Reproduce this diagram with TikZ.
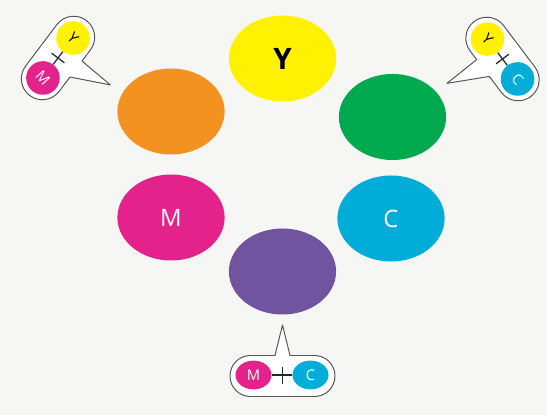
\documentclass[tikz,border=0pt]{standalone}
\usepackage{fontspec}
\setmainfont{Open Sans}
\usetikzlibrary{shapes.geometric}

\definecolor{paper}{RGB}{246,246,244}
\definecolor{inkY}{RGB}{255,241,0}
\definecolor{inkM}{RGB}{228,34,140}
\definecolor{inkC}{RGB}{0,172,216}
\definecolor{inkO}{RGB}{243,146,32}
\definecolor{inkG}{RGB}{0,168,78}
\definecolor{inkV}{RGB}{112,84,160}
\definecolor{bubbleline}{RGB}{85,85,85}

\begin{document}
\begin{tikzpicture}[
			x=0.025cm, y=0.025cm,
			disc/.style={
				ellipse,
				minimum width=2.68cm,
				minimum height=2.15cm,
				inner sep=0pt,
				font=\fontsize{17}{17}\selectfont
			},
			dot/.style={
				ellipse,
				minimum width=0.9cm,
				minimum height=0.72cm,
				inner sep=0pt,
				font=\fontsize{10.5}{10.5}\selectfont
			},
			tiltdot/.style={
				circle,
				minimum size=0.84cm,
				inner sep=0pt,
				rotate=-48,
				font=\fontsize{10.5}{10.5}\selectfont
			},
			bubble/.style={draw=bubbleline, fill=white, line width=0.7pt, line join=round},
			plus/.style={draw=black!85, line width=0.9pt}
			]
			
			\fill[paper] (0,0) rectangle (547,415);
			\useasboundingbox (0,0) rectangle (547,415);
			
			%--------------------------------------------------
			% Colour discs
			%--------------------------------------------------
			
			\node (yel) [disc, fill=inkY, font=\fontsize{21}{21}\selectfont\bfseries] at (282.5,356.5) {Y};
			
			\node (org) [disc, fill=inkO] at (171,303.5) {};
			
			\node (grn) [disc, fill=inkG] at (392.5,298) {};
			
			\node (mag) [disc, fill=inkM, text=white] at (171,197.5) {M};
			
			\node (cyn) [disc, fill=inkC, text=white] at (391,196.5) {C};
			
			\node (pur) [disc, fill=inkV] at (282.5,143.5) {};
			
			%--------------------------------------------------
			% Callout M+Y
			%--------------------------------------------------
			
			\begin{scope}[shift={(58,357)}, rotate=53]
				\draw[bubble] (-26,21) arc[start angle=90, end angle=270, radius=21]
				-- (-8,-21) -- (10,-58) -- (12,-21) -- (26,-21)
				arc[start angle=-90, end angle=90, radius=21] -- cycle;
				\node (myM) [tiltdot, fill=inkM, text=white] at (-25,0) {M};
				\node (myY) [tiltdot, fill=inkY] at (25,0) {Y};
				\draw[plus] (myM) -- (myY);
				\draw[plus] (0,-8) -- (0,8);
			\end{scope}
			
			%--------------------------------------------------
			% Callout Y+C
			%--------------------------------------------------
			
			\begin{scope}[shift={(502.5,356)}, rotate=-53]
				\draw[bubble] (-26,21) arc[start angle=90, end angle=270, radius=21]
				-- (-15,-21) -- (-14,-59) -- (6,-21) -- (26,-21)
				arc[start angle=-90, end angle=90, radius=21] -- cycle;
				\node (ycY) [tiltdot, fill=inkY] at (-25,0) {Y};
				\node (ycC) [tiltdot, fill=inkC, text=white] at (25,0) {C};
				\draw[plus] (ycY) -- (ycC);
				\draw[plus] (0,-8) -- (0,8);
			\end{scope}
			
			%--------------------------------------------------
			% Callout M+C
			%--------------------------------------------------
			
			\begin{scope}[shift={(282.5,39)}]
				\draw[bubble] (-32,-20.5) arc[start angle=270, end angle=90, radius=20.5]
				-- (-7.5,20.5) -- (0,51) -- (7.5,20.5) -- (32,20.5)
				arc[start angle=90, end angle=-90, radius=20.5] -- cycle;
				\node (mcM) [dot, fill=inkM, text=white] at (-29,1) {M};
				\node (mcC) [dot, fill=inkC, text=white] at (28,1) {C};
				\draw[plus] (mcM) -- (mcC);
				\draw[plus] (0,-8) -- (0,9);
			\end{scope}
			
		\end{tikzpicture}
\end{document}
